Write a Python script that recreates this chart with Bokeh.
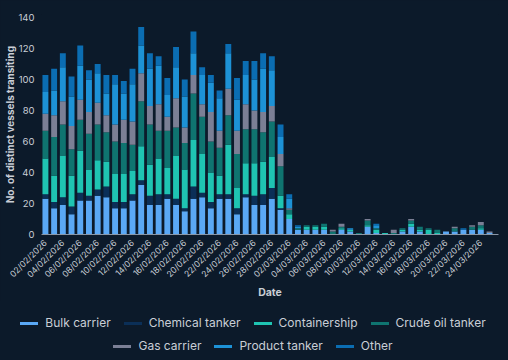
from math import pi
from bokeh.plotting import figure
from bokeh.layouts import column
from bokeh.models import ColumnDataSource, FixedTicker, Range1d, Div
from bokeh.embed import file_html
from bokeh.resources import INLINE

dates = [
    "02/02/2026", "03/02/2026", "04/02/2026", "05/02/2026", "06/02/2026", "07/02/2026",
    "08/02/2026", "09/02/2026", "10/02/2026", "11/02/2026", "12/02/2026", "13/02/2026",
    "14/02/2026", "15/02/2026", "16/02/2026", "17/02/2026", "18/02/2026", "19/02/2026",
    "20/02/2026", "21/02/2026", "22/02/2026", "23/02/2026", "24/02/2026", "25/02/2026",
    "26/02/2026", "27/02/2026", "28/02/2026", "01/03/2026", "02/03/2026", "03/03/2026",
    "04/03/2026", "05/03/2026", "06/03/2026", "07/03/2026", "08/03/2026", "09/03/2026",
    "10/03/2026", "11/03/2026", "12/03/2026", "13/03/2026", "14/03/2026", "15/03/2026",
    "16/03/2026", "17/03/2026", "18/03/2026", "19/03/2026", "20/03/2026", "21/03/2026",
    "22/03/2026", "23/03/2026", "24/03/2026", "25/03/2026",
]

bulk_carrier = [23, 17, 19, 13, 22, 22, 25, 24, 17, 17, 22, 32, 19, 19, 23, 19, 15, 23, 24, 17,
                23, 23, 13, 24, 19, 19, 23, 16, 10,
                3, 3, 3, 3, 0, 3, 2, 0, 5, 1, 0, 0, 2, 5, 2, 0, 0, 2, 2, 3, 3, 3, 1]
chemical_tanker = [3, 4, 5, 5, 5, 3, 4, 7, 4, 4, 4, 3, 6, 7, 3, 4, 2, 8, 3, 4,
                   3, 3, 4, 2, 6, 7, 7, 1, 0,
                   0, 0, 0, 0, 0, 0, 0, 0, 0, 0, 0, 0, 0, 0, 0, 0, 0, 0, 0, 0, 0, 0, 0]
containership = [23, 17, 27, 20, 27, 17, 19, 16, 18, 18, 15, 22, 20, 23, 17, 28, 25, 30, 25, 19,
                 12, 32, 13, 20, 21, 21, 20, 8, 3,
                 0, 2, 2, 2, 0, 1, 1, 0, 1, 2, 1, 0, 1, 2, 1, 3, 1, 0, 0, 0, 0, 1, 0]
crude_oil_tanker = [18, 25, 20, 17, 20, 23, 23, 19, 21, 20, 17, 29, 26, 18, 24, 18, 17, 30, 24, 20,
                    18, 19, 22, 22, 22, 19, 23, 19, 3,
                    1, 1, 1, 2, 2, 1, 0, 1, 3, 1, 0, 1, 1, 2, 2, 1, 2, 0, 2, 0, 2, 2, 0]
gas_carrier = [11, 14, 15, 15, 13, 14, 14, 11, 11, 15, 15, 18, 12, 17, 9, 19, 10, 12, 8, 19,
               11, 17, 15, 16, 12, 13, 10, 8, 1,
               0, 0, 0, 0, 1, 2, 0, 0, 1, 0, 0, 2, 0, 1, 0, 0, 0, 0, 1, 0, 1, 2, 1]
product_tanker = [14, 16, 22, 19, 22, 21, 19, 14, 26, 17, 24, 18, 24, 25, 14, 20, 20, 14, 19, 19,
                  21, 23, 20, 19, 20, 28, 23, 11, 6,
                  1, 0, 0, 0, 0, 0, 1, 0, 0, 2, 0, 0, 0, 0, 0, 0, 0, 0, 0, 0, 0, 0, 0]
other = [11, 14, 9, 13, 13, 6, 6, 12, 6, 8, 10, 12, 10, 6, 11, 13, 11, 14, 5, 5,
         5, 6, 14, 9, 12, 10, 9, 8, 3,
         1, 0, 0, 0, 0, 0, 0, 0, 0, 1, 0, 0, 0, 0, 0, 0, 0, 0, 0, 1, 0, 0, 0]

series_names = ["Bulk carrier", "Chemical tanker", "Containership", "Crude oil tanker",
                "Gas carrier", "Product tanker", "Other"]
series_keys = ["bulk", "chemical", "container", "crude", "gas", "product", "other"]
colors = ["#5aa8f5", "#0b2f57", "#1fc4b2", "#0f7470", "#7b7f95", "#1d92d6", "#0b6db2"]
y_ticks = [0, 20, 40, 60, 80, 100, 120, 140]

BG = "#0c1a2a"
FONT = "Inter"
TXT = "#c9ced6"

W = 508
H_PLOT = 301
H_LEG = 59

idx = list(range(len(dates)))
src = ColumnDataSource(dict(
    x=idx, date=dates,
    bulk=bulk_carrier, chemical=chemical_tanker, container=containership,
    crude=crude_oil_tanker, gas=gas_carrier, product=product_tanker, other=other,
))

p = figure(width=W, height=H_PLOT, output_backend="svg", toolbar_location=None, tools="",
           x_range=Range1d(-0.45, 52.03), y_range=Range1d(0, 142),
           min_border_top=14, min_border_right=10, min_border_left=0, min_border_bottom=60,
           styles={"background-color": BG})
p.background_fill_color = BG
p.border_fill_color = BG
p.outline_line_color = None
p.xgrid.visible = False
p.ygrid.visible = False

p.vbar_stack(series_keys, x="x", width=0.68, color=colors, line_color=None, source=src)

# x axis
xa = p.xaxis[0]
xa.ticker = FixedTicker(ticks=idx[::2])
xa.major_label_overrides = {i: dates[i] for i in idx[::2]}
xa.major_label_orientation = pi / 4
xa.major_label_text_font = FONT
xa.major_label_text_font_size = "8.5px"
xa.major_label_text_color = TXT
xa.major_label_standoff = 1
xa.major_tick_line_color = None
xa.minor_tick_line_color = None
xa.axis_line_color = "#8a96a6"
xa.axis_line_width = 1
xa.axis_label = "Date"
xa.axis_label_text_font = FONT
xa.axis_label_text_font_style = "bold"
xa.axis_label_text_font_size = "10.5px"
xa.axis_label_text_color = TXT
xa.axis_label_standoff = 0

# y axis
ya = p.yaxis[0]
ya.ticker = FixedTicker(ticks=y_ticks)
ya.major_label_text_font = FONT
ya.major_label_text_font_size = "9.5px"
ya.major_label_text_color = TXT
ya.major_label_standoff = 1
ya.major_tick_line_color = None
ya.minor_tick_line_color = None
ya.axis_line_color = None
ya.axis_label = "No. of distinct vessels transiting"
ya.axis_label_text_font = FONT
ya.axis_label_text_font_style = "bold"
ya.axis_label_text_font_size = "10px"
ya.axis_label_text_color = TXT
ya.axis_label_standoff = 0

# legend below the chart: two centred rows with short line symbols
def legend_row(names, cols):
    parts = []
    for n, c in zip(names, cols):
        parts.append(
            f'<span style="display:inline-flex;align-items:center;margin:0 6.5px;white-space:nowrap">'
            f'<span style="display:inline-block;width:18px;height:3px;background:{c};'
            f'margin-right:7px"></span>{n}</span>'
        )
    return ('<div style="text-align:center;line-height:22.5px;height:22.5px;white-space:nowrap">'
            + "".join(parts) + '</div>')

legend_html = (
    f'<div style="width:{W - 6}px;padding-top:4px;padding-right:6px;font-family:{FONT};'
    f'font-size:12px;color:{TXT};background:{BG}">'
    + legend_row(series_names[:4], colors[:4])
    + legend_row(series_names[4:], colors[4:])
    + '</div>'
)
legend_div = Div(text=legend_html, width=W, height=H_LEG,
                 styles={"background-color": BG, "overflow": "hidden"})

layout = column(p, legend_div, spacing=0, styles={"background-color": BG})

open("out.html", "w").write(file_html(layout, INLINE))
